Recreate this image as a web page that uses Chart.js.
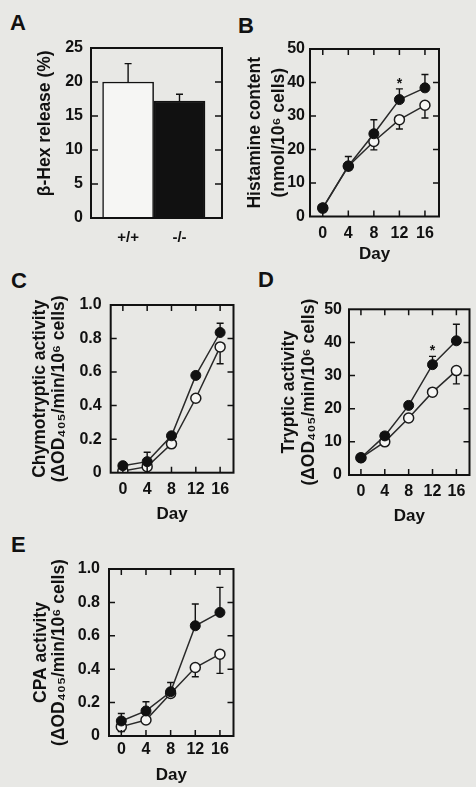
<!DOCTYPE html>
<html><head><meta charset="utf-8">
<script src="https://cdn.jsdelivr.net/npm/chart.js@4.4.1/dist/chart.umd.min.js"></script>
<style>
html,body{margin:0;padding:0;background:#e8e8e5;width:476px;height:787px;overflow:hidden;position:relative;}
canvas{position:absolute;display:block;}
.lbl{position:absolute;font:bold 22px 'Liberation Sans',Arial,sans-serif;color:#111;line-height:22px;}
</style></head><body>
<div class="lbl" style="left:10px;top:12px">A</div>
<div class="lbl" style="left:238px;top:15px">B</div>
<div class="lbl" style="left:11px;top:270px">C</div>
<div class="lbl" style="left:258px;top:269px">D</div>
<div class="lbl" style="left:11px;top:534px">E</div>
<canvas id="cA" width="236" height="270" style="left:0;top:0"></canvas>
<canvas id="cB" width="240" height="270" style="left:236px;top:0"></canvas>
<canvas id="cC" width="240" height="270" style="left:0;top:270px"></canvas>
<canvas id="cD" width="240" height="270" style="left:236px;top:270px"></canvas>
<canvas id="cE" width="240" height="247" style="left:0;top:540px"></canvas>
<script>
// ---- data ----
const GENOTYPES = ['+/+', '-/-'];
const HEX_RELEASE = [20.0, 17.2];
const HEX_ERR = [2.7, 1.0];
const HEX_TICKS = [0, 5, 10, 15, 20, 25];

const DAYS = [0, 4, 8, 12, 16];

const HIST_WT = [2.5, 15.0, 22.4, 28.9, 33.2];
const HIST_KO = [2.6, 15.1, 24.7, 34.9, 38.4];
const HIST_WT_ERR = [0, 0, 2.5, 2.8, 3.8];
const HIST_KO_ERR = [0.5, 2.8, 4.2, 3.2, 4.0];
const HIST_TICKS = [0, 10, 20, 30, 40, 50];
const HIST_SIG_DAYS = [12];

const CHYMO_WT = [0.01, 0.036, 0.172, 0.444, 0.75];
const CHYMO_KO = [0.042, 0.066, 0.22, 0.58, 0.836];
const CHYMO_WT_ERR = [0, 0, 0.01, 0.02, 0.1];
const CHYMO_KO_ERR = [0.01, 0.056, 0.01, 0.02, 0.055];
const CHYMO_TICKS = [0, 0.2, 0.4, 0.6, 0.8, 1.0];

const TRYP_WT = [5.2, 10.0, 17.2, 25.0, 31.5];
const TRYP_KO = [5.2, 11.8, 21.0, 33.3, 40.5];
const TRYP_WT_ERR = [0, 0.5, 0.8, 1.0, 4.0];
const TRYP_KO_ERR = [0.5, 1.0, 1.0, 2.5, 5.0];
const TRYP_TICKS = [0, 10, 20, 30, 40, 50];
const TRYP_SIG_DAYS = [12];

const CPA_WT = [0.056, 0.096, 0.255, 0.41, 0.49];
const CPA_KO = [0.09, 0.15, 0.265, 0.66, 0.74];
const CPA_WT_ERR = [0.03, 0.01, 0.02, 0.055, 0.115];
const CPA_KO_ERR = [0.045, 0.055, 0.055, 0.13, 0.15];
const CPA_TICKS = [0, 0.2, 0.4, 0.6, 0.8, 1.0];

// ---- style ----
const FONT = "'Liberation Sans', Arial, sans-serif";
const INK = '#111';

const decor = {
  id: 'decor',
  beforeDatasetsDraw(chart, args, o) {
    const ctx = chart.ctx, ys = chart.scales.y;
    ctx.save();
    ctx.strokeStyle = INK; ctx.lineWidth = 1.4;
    (o.errors || []).forEach(e => {
      const meta = chart.getDatasetMeta(e.ds);
      const vals = chart.data.datasets[e.ds].data;
      meta.data.forEach((el, i) => {
        const err = e.err[i]; if (!err) return;
        const yEnd = ys.getPixelForValue(vals[i].y + e.dir * err);
        ctx.beginPath();
        ctx.moveTo(el.x, el.y); ctx.lineTo(el.x, yEnd);
        ctx.moveTo(el.x - 3.5, yEnd); ctx.lineTo(el.x + 3.5, yEnd);
        ctx.stroke();
      });
    });
    ctx.restore();
  },
  afterDatasetsDraw(chart, args, o) {
    const ctx = chart.ctx, a = chart.chartArea, xs = chart.scales.x, ys = chart.scales.y;
    ctx.save();
    ctx.strokeStyle = INK;
    ctx.lineWidth = 2;
    ctx.strokeRect(a.left, a.top, a.right - a.left, a.bottom - a.top);
    ctx.lineWidth = 1.5;
    ctx.beginPath();
    const L = o.len || 6;
    (o.xTicks || []).forEach(v => {
      const px = xs.getPixelForValue(v);
      ctx.moveTo(px, a.bottom); ctx.lineTo(px, a.bottom - L);
      ctx.moveTo(px, a.top); ctx.lineTo(px, a.top + L);
    });
    (o.yTicks || []).forEach(v => {
      const py = ys.getPixelForValue(v);
      ctx.moveTo(a.left, py); ctx.lineTo(a.left + L, py);
      ctx.moveTo(a.right, py); ctx.lineTo(a.right - L, py);
    });
    ctx.stroke();
    ctx.fillStyle = INK;
    ctx.font = 'bold 14px ' + FONT;
    ctx.textAlign = 'center'; ctx.textBaseline = 'alphabetic';
    (o.stars || []).forEach(s => {
      const el = chart.getDatasetMeta(s.ds).data[s.index];
      const v = chart.data.datasets[s.ds].data[s.index].y + s.err;
      const top = ys.getPixelForValue(v);
      ctx.fillText('*', el.x, top - 9 + 8);
    });
    ctx.restore();
  }
};
Chart.register(decor);

const setTicks = arr => s => { s.ticks = arr.map(v => ({ value: v })); };

// ---- Panel A ----
new Chart(document.getElementById('cA'), {
  type: 'bar',
  data: {
    datasets: [{
      data: GENOTYPES.map((g, i) => ({ x: i + 1, y: HEX_RELEASE[i] })),
      backgroundColor: ['#f6f6f4', '#111'],
      borderColor: '#111',
      borderWidth: 1.5,
      barThickness: 51
    }]
  },
  options: {
    responsive: false, animation: false, devicePixelRatio: 1,
    layout: { padding: { top: 48, right: 14, left: 0, bottom: 0 } },
    plugins: {
      legend: { display: false }, tooltip: { enabled: false },
      decor: { errors: [{ ds: 0, err: HEX_ERR, dir: 1 }], yTicks: [5, 10, 15, 20], len: 7 }
    },
    scales: {
      x: {
        type: 'linear', min: 0.278, max: 2.827, offset: false,
        grid: { display: false, drawTicks: false }, border: { display: false },
        afterBuildTicks: s => { s.ticks = GENOTYPES.map((g, i) => ({ value: i + 1 })); },
        afterFit: s => { s.height = 52; },
        ticks: { color: INK, padding: 11, font: { family: FONT, size: 15, weight: 'bold' },
          callback: v => GENOTYPES[v - 1], maxRotation: 0, autoSkip: false }
      },
      y: {
        min: 0, max: 25,
        grid: { display: false, drawTicks: false }, border: { display: false },
        afterBuildTicks: setTicks(HEX_TICKS),
        afterFit: s => { s.width = 91; },
        ticks: { color: INK, padding: 8, font: { family: FONT, size: 16, weight: 'bold' } },
        title: { display: true, text: '    β-Hex release (%)', color: INK,
          font: { family: FONT, size: 17.5, weight: 'bold', lineHeight: '21px' },
          padding: { top: 35, bottom: 0 } }
      }
    }
  }
});

// ---- line panels ----
function lineChart(id, p) {
  return new Chart(document.getElementById(id), {
    type: 'line',
    data: {
      datasets: [
        { data: DAYS.map((d, i) => ({ x: d, y: p.ko[i] })),
          borderColor: '#2a2a2a', borderWidth: 1.5, tension: 0,
          pointRadius: 5, pointBackgroundColor: '#111', pointBorderColor: '#111', pointBorderWidth: 1 },
        { data: DAYS.map((d, i) => ({ x: d, y: p.wt[i] })),
          borderColor: '#2a2a2a', borderWidth: 1.5, tension: 0,
          pointRadius: 5, pointBackgroundColor: '#f6f6f4', pointBorderColor: '#1a1a1a', pointBorderWidth: 1.5 }
      ]
    },
    options: {
      responsive: false, animation: false, devicePixelRatio: 1,
      layout: { padding: { top: p.padTop, right: p.padRight, left: 0, bottom: 0 } },
      plugins: {
        legend: { display: false }, tooltip: { enabled: false },
        decor: {
          errors: [{ ds: 0, err: p.koErr, dir: 1 }, { ds: 1, err: p.wtErr, dir: -1 }],
          xTicks: DAYS, yTicks: p.ticks.slice(1, -1), len: 6,
          stars: (p.sig || []).map(d => { const i = DAYS.indexOf(d); return { ds: 0, index: i, err: p.koErr[i] }; })
        }
      },
      scales: {
        x: {
          type: 'linear', min: -2, max: 18.2,
          grid: { display: false, drawTicks: false }, border: { display: false },
          afterBuildTicks: setTicks(DAYS),
          afterFit: s => { s.height = p.xAxisH; },
          ticks: { color: INK, padding: p.xPad, font: { family: FONT, size: 16, weight: 'bold' }, maxRotation: 0, autoSkip: false },
          title: { display: true, text: 'Day', color: INK,
            font: { family: FONT, size: 17, weight: 'bold' }, padding: { top: 0, bottom: p.dayPad } }
        },
        y: {
          min: p.ticks[0], max: p.ticks[p.ticks.length - 1],
          grid: { display: false, drawTicks: false }, border: { display: false },
          afterBuildTicks: setTicks(p.ticks),
          afterFit: s => { s.width = p.yAxisW; },
          ticks: { color: INK, padding: p.yPad, font: { family: FONT, size: 16, weight: 'bold' }, callback: p.fmt },
          title: { display: true, text: p.title, color: INK,
            font: { family: FONT, size: 17.5, weight: 'bold', lineHeight: p.titleLH + 'px' },
            padding: { top: p.titlePad, bottom: 0 } }
        }
      }
    }
  });
}
const fmtInt = v => String(v);
const fmtDec = v => (v === 0 ? '0' : v.toFixed(1));

lineChart('cB', { ko: HIST_KO, wt: HIST_WT, koErr: HIST_KO_ERR, wtErr: HIST_WT_ERR, ticks: HIST_TICKS, sig: HIST_SIG_DAYS,
  fmt: fmtInt, title: ['Histamine content', '(nmol/10⁶ cells)'],
  padTop: 49, padRight: 37, yAxisW: 74, xAxisH: 53.5, xPad: 7, dayPad: 5, yPad: 5, titleLH: 23.3, titlePad: 8 });

lineChart('cC', { ko: CHYMO_KO, wt: CHYMO_WT, koErr: CHYMO_KO_ERR, wtErr: CHYMO_WT_ERR, ticks: CHYMO_TICKS,
  fmt: fmtDec, title: ['Chymotryptic activity', '(ΔOD₄₀₅/min/10⁶ cells)'],
  padTop: 35, padRight: 1, yAxisW: 110.7, xAxisH: 67.3, xPad: 7.7, dayPad: 15.8, yPad: 9, titleLH: 18.5, titlePad: 31 });

lineChart('cD', { ko: TRYP_KO, wt: TRYP_WT, koErr: TRYP_KO_ERR, wtErr: TRYP_WT_ERR, ticks: TRYP_TICKS, sig: TRYP_SIG_DAYS,
  fmt: fmtInt, title: ['Tryptic activity', '(ΔOD₄₀₅/min/10⁶ cells)'],
  padTop: 39.3, padRight: 1, yAxisW: 113, xAxisH: 65, xPad: 7, dayPad: 13.8, yPad: 7, titleLH: 19.5, titlePad: 43.5 });

lineChart('cE', { ko: CPA_KO, wt: CPA_WT, koErr: CPA_KO_ERR, wtErr: CPA_WT_ERR, ticks: CPA_TICKS,
  fmt: fmtDec, title: ['CPA activity', '(ΔOD₄₀₅/min/10⁶ cells)'],
  padTop: 29, padRight: 1.7, yAxisW: 109, xAxisH: 51, xPad: 4.4, dayPad: 1, yPad: 9, titleLH: 18, titlePad: 32 });
</script>
</body></html>
